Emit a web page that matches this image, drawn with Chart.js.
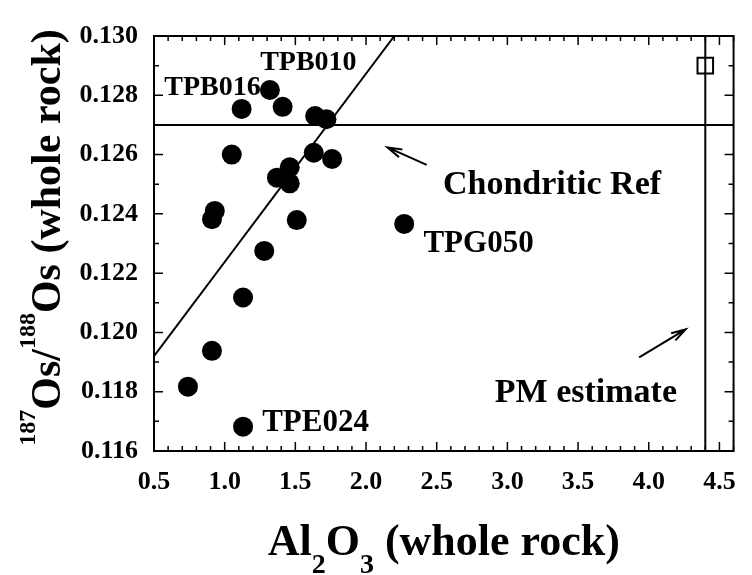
<!DOCTYPE html>
<html lang="en">
<head>
<meta charset="UTF-8">
<title>187Os/188Os vs Al2O3</title>
<script src="https://cdn.jsdelivr.net/npm/chart.js"></script>
<style>
  html, body { margin: 0; padding: 0; background: #fff; }
  #wrap { width: 752px; height: 575px; }
</style>
</head>
<body>
<div id="wrap"><canvas id="myChart"></canvas></div>
<script>
// whole rock samples
const al2o3 = [0.74, 0.91, 0.93, 0.91, 1.05, 1.12, 1.13, 1.13, 1.28, 1.32,
               1.37, 1.41, 1.46, 1.46, 1.51, 1.63, 1.64, 1.72, 1.76, 2.27];
const osRatio = [0.11817, 0.11938, 0.12410, 0.12382, 0.12600, 0.12754, 0.12118, 0.11682, 0.12275, 0.12818,
                 0.12522, 0.12761, 0.12557, 0.12503, 0.12379, 0.12606, 0.12730, 0.12719, 0.12585, 0.12366];

// reference lines
const trendX = [0.5, 2.2];
const trendY = [0.1192, 0.130];
const chondriticOs = 0.127;
const pmAl2o3 = 4.4;
const pmOs = 0.129;

// axis ticks
const xTicks = [0.5, 1.0, 1.5, 2.0, 2.5, 3.0, 3.5, 4.0, 4.5];
const yTicks = [0.116, 0.118, 0.120, 0.122, 0.124, 0.126, 0.128, 0.130];

// labels (anchor in data units)
const notes = [
    { text: 'TPB016', x: 0.573, y: 0.12801, size: 28 },
    { text: 'TPB010', x: 1.251, y: 0.12885, size: 28 },
    { text: 'TPG050', x: 2.406, y: 0.12272, size: 31 },
    { text: 'TPE024', x: 1.265, y: 0.11668, size: 31 },
    { text: 'Chondritic Ref', x: 2.544, y: 0.12467, size: 34 },
    { text: 'PM estimate', x: 2.911, y: 0.11766, size: 34 }
];
const arrows = [
    { from: [2.429, 0.12565], to: [2.152, 0.12624] },
    { from: [3.932, 0.11916], to: [4.261, 0.12010] }
];

const serif = '"Liberation Serif", "Times New Roman", serif';

function arrow(ctx, x0, y0, x1, y1) {
    const a = Math.atan2(y1 - y0, x1 - x0), L = 15, w = 0.28;
    ctx.beginPath();
    ctx.moveTo(x0, y0); ctx.lineTo(x1, y1);
    ctx.moveTo(x1 - L * Math.cos(a - w), y1 - L * Math.sin(a - w));
    ctx.lineTo(x1, y1);
    ctx.lineTo(x1 - L * Math.cos(a + w), y1 - L * Math.sin(a + w));
    ctx.stroke();
}

// draws text pieces with sub / superscripts, centred on 0
function richText(ctx, parts) {
    let total = 0;
    parts.forEach(p => { ctx.font = 'bold ' + p.size + 'px ' + serif; p.w = ctx.measureText(p.t).width; total += p.w; });
    let x = -total / 2;
    ctx.textAlign = 'left';
    ctx.textBaseline = 'alphabetic';
    parts.forEach(p => {
        ctx.font = 'bold ' + p.size + 'px ' + serif;
        ctx.fillText(p.t, x, p.dy || 0);
        x += p.w;
    });
}

const framePlugin = {
    id: 'frame',
    afterDraw(chart) {
        const ctx = chart.ctx, a = chart.chartArea;
        const sx = chart.scales.x, sy = chart.scales.y;
        ctx.save();
        ctx.strokeStyle = '#000';
        ctx.fillStyle = '#000';
        ctx.lineWidth = 2;
        ctx.strokeRect(a.left, a.top, a.right - a.left, a.bottom - a.top);

        // inward ticks on all four sides
        ctx.lineWidth = 1.5;
        ctx.beginPath();
        for (let i = 5; i <= 46; i++) {
            const px = sx.getPixelForValue(i / 10);
            const len = i % 5 === 0 ? 9 : 5;
            ctx.moveTo(px, a.bottom); ctx.lineTo(px, a.bottom - len);
            ctx.moveTo(px, a.top); ctx.lineTo(px, a.top + len);
        }
        for (let i = 116; i <= 130; i++) {
            const py = sy.getPixelForValue(i / 1000);
            const len = i % 2 === 0 ? 9 : 5;
            ctx.moveTo(a.left, py); ctx.lineTo(a.left + len, py);
            ctx.moveTo(a.right, py); ctx.lineTo(a.right - len, py);
        }
        ctx.stroke();

        // arrows
        ctx.lineWidth = 2;
        arrows.forEach(r => {
            arrow(ctx, sx.getPixelForValue(r.from[0]), sy.getPixelForValue(r.from[1]),
                       sx.getPixelForValue(r.to[0]), sy.getPixelForValue(r.to[1]));
        });

        // labels
        ctx.textAlign = 'left';
        ctx.textBaseline = 'alphabetic';
        notes.forEach(n => {
            ctx.font = 'bold ' + n.size + 'px ' + serif;
            ctx.fillText(n.text, sx.getPixelForValue(n.x), sy.getPixelForValue(n.y));
        });

        // x title
        ctx.save();
        ctx.translate((a.left + a.right) / 2, 555);
        richText(ctx, [
            { t: 'Al', size: 44 }, { t: '2', size: 28, dy: 18 },
            { t: 'O', size: 44 }, { t: '3', size: 28, dy: 18 },
            { t: ' (whole rock)', size: 44 }
        ]);
        ctx.restore();

        // y title
        ctx.save();
        ctx.translate(60, (a.top + a.bottom) / 2 - 6);
        ctx.rotate(-Math.PI / 2);
        richText(ctx, [
            { t: '187', size: 24, dy: -25 }, { t: 'Os/', size: 42 },
            { t: '188', size: 24, dy: -25 }, { t: 'Os (whole rock)', size: 42 }
        ]);
        ctx.restore();

        ctx.restore();
    }
};

const samples = al2o3.map((v, i) => ({ x: v, y: osRatio[i] }));

const config = {
    type: 'scatter',
    data: {
        datasets: [
            {
                label: 'samples',
                data: samples,
                pointRadius: 10,
                pointBackgroundColor: '#000',
                pointBorderColor: '#000',
                pointBorderWidth: 0,
                order: 0
            },
            {
                label: 'trend',
                data: trendX.map((v, i) => ({ x: v, y: trendY[i] })),
                showLine: true,
                borderColor: '#000',
                borderWidth: 2,
                pointRadius: 0,
                order: 1
            },
            {
                label: 'chondritic',
                data: [{ x: 0.5, y: chondriticOs }, { x: 4.6, y: chondriticOs }],
                showLine: true,
                borderColor: '#000',
                borderWidth: 2,
                pointRadius: 0,
                order: 1
            },
            {
                label: 'PM',
                data: [{ x: pmAl2o3, y: 0.116 }, { x: pmAl2o3, y: 0.130 }],
                showLine: true,
                borderColor: '#000',
                borderWidth: 2,
                pointRadius: 0,
                order: 1
            },
            {
                label: 'PM estimate',
                data: [{ x: pmAl2o3, y: pmOs }],
                pointStyle: 'rect',
                pointRadius: 11,
                pointBackgroundColor: 'rgba(0,0,0,0)',
                pointBorderColor: '#000',
                pointBorderWidth: 2,
                order: 2
            }
        ]
    },
    options: {
        responsive: true,
        maintainAspectRatio: false,
        animation: false,
        devicePixelRatio: 1,
        layout: { padding: { top: 36, right: 5, left: 0, bottom: 0 } },
        plugins: { legend: { display: false }, tooltip: { enabled: false } },
        scales: {
            x: {
                type: 'linear',
                min: 0.5,
                max: 4.6,
                afterBuildTicks: s => { s.ticks = xTicks.map(v => ({ value: v })); },
                afterFit: s => { s.height = 124; },
                ticks: {
                    color: '#000',
                    padding: 16,
                    font: { family: serif, size: 26, weight: 'bold' },
                    callback: v => Number(v).toFixed(1)
                },
                grid: { drawOnChartArea: false, drawTicks: false },
                border: { color: '#000', width: 2 }
            },
            y: {
                type: 'linear',
                min: 0.116,
                max: 0.130,
                afterBuildTicks: s => { s.ticks = yTicks.map(v => ({ value: v })); },
                afterFit: s => { s.width = 154; },
                ticks: {
                    color: '#000',
                    padding: 16,
                    font: { family: serif, size: 26, weight: 'bold' },
                    callback: v => Number(v).toFixed(3)
                },
                grid: { drawOnChartArea: false, drawTicks: false },
                border: { color: '#000', width: 2 }
            }
        }
    },
    plugins: [framePlugin]
};

const myChart = new Chart(document.getElementById('myChart'), config);
</script>
</body>
</html>
